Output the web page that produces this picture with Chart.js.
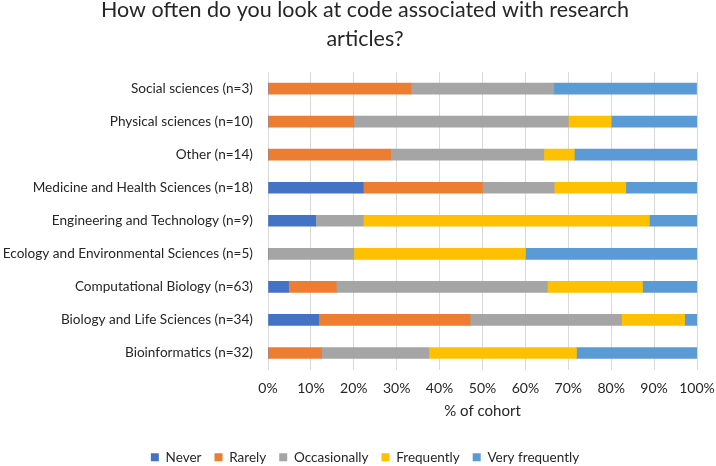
<!DOCTYPE html>
<html>
<head>
<meta charset="utf-8">
<script src="https://cdn.jsdelivr.net/npm/chart.js@4"></script>
<style>
  html, body { margin: 0; padding: 0; background: #ffffff; }
  #wrap { width: 716px; height: 466px; position: relative; }
</style>
</head>
<body>
<div id="wrap"><canvas id="c" width="716" height="466"></canvas></div>
<script>
const categories = [
  "Social sciences (n=3)",
  "Physical sciences (n=10)",
  "Other (n=14)",
  "Medicine and Health Sciences (n=18)",
  "Engineering and Technology (n=9)",
  "Ecology and Environmental Sciences (n=5)",
  "Computational Biology (n=63)",
  "Biology and Life Sciences (n=34)",
  "Bioinformatics (n=32)"
];
const seriesNames = ["Never", "Rarely", "Occasionally", "Frequently", "Very frequently"];
const never         = [0,    0,    0,    22.2, 11.1, 0,    4.8,  11.8, 0];
const rarely        = [33.3, 20,   28.6, 27.8, 0,    0,    11.1, 35.3, 12.5];
const occasionally  = [33.3, 50,   35.7, 16.7, 11.1, 20,   49.2, 35.3, 25];
const frequently    = [0,    10,   7.1,  16.7, 66.7, 40,   22.2, 14.7, 34.4];
const veryFrequently= [33.3, 20,   28.6, 16.7, 11.1, 40,   12.7, 2.9,  28.1];
const xTicks = [0, 10, 20, 30, 40, 50, 60, 70, 80, 90, 100];
const titleLines = ["How often do you look at code associated with research", "articles?"];
const xAxisTitle = "% of cohort";

const colors = ["#4472C4", "#ED7D31", "#A5A5A5", "#FFC000", "#5B9BD5"];
const seriesData = [never, rarely, occasionally, frequently, veryFrequently];

const FONT = "Lato, 'Open Sans', sans-serif";
const TEXT = "#262626";
const SHIFT = 16.5;

const shiftBlocks = {
  id: "shiftBlocks",
  afterLayout(chart) {
    [chart.titleBlock, chart.legend].forEach(b => {
      if (b) { b.left += SHIFT; b.right += SHIFT; }
    });
  }
};

new Chart(document.getElementById("c"), {
  type: "bar",
  data: {
    labels: categories,
    datasets: seriesNames.map((name, i) => ({
      label: name,
      data: seriesData[i],
      backgroundColor: colors[i],
      borderWidth: 0,
      barThickness: 11
    }))
  },
  plugins: [shiftBlocks],
  options: {
    indexAxis: "y",
    responsive: false,
    animation: false,
    layout: { padding: { top: 0, bottom: -8, left: 0, right: 19 } },
    plugins: {
      tooltip: { enabled: false },
      title: {
        display: true,
        text: titleLines,
        color: TEXT,
        font: { family: FONT, size: 21.5, weight: "normal", lineHeight: 1.35 },
        padding: { top: -4, bottom: 18 }
      },
      legend: {
        position: "bottom",
        labels: {
          color: TEXT,
          font: { family: FONT, size: 13.5 },
          boxWidth: 8,
          boxHeight: 8,
          padding: 13
        }
      }
    },
    scales: {
      x: {
        stacked: true,
        min: 0,
        max: 100,
        afterBuildTicks: (scale) => { scale.ticks = xTicks.map(v => ({ value: v })); },
        afterFit: (scale) => { scale.height = 68; scale.paddingRight = 0; scale.paddingLeft = 0; },
        ticks: {
          color: TEXT,
          font: { family: FONT, size: 14 },
          padding: 11,
          callback: (v) => v + "%"
        },
        grid: { color: "#D9D9D9", lineWidth: 1, drawTicks: false },
        border: { display: false },
        title: {
          display: true,
          text: xAxisTitle,
          color: TEXT,
          font: { family: FONT, size: 15 },
          padding: { top: 4, bottom: 17 }
        }
      },
      y: {
        stacked: true,
        afterFit: (scale) => { scale.width = 268; },
        ticks: {
          color: TEXT,
          font: { family: FONT, size: 13.6 },
          padding: 15
        },
        grid: { display: false, drawTicks: false },
        border: { display: false }
      }
    }
  }
});
</script>
</body>
</html>
